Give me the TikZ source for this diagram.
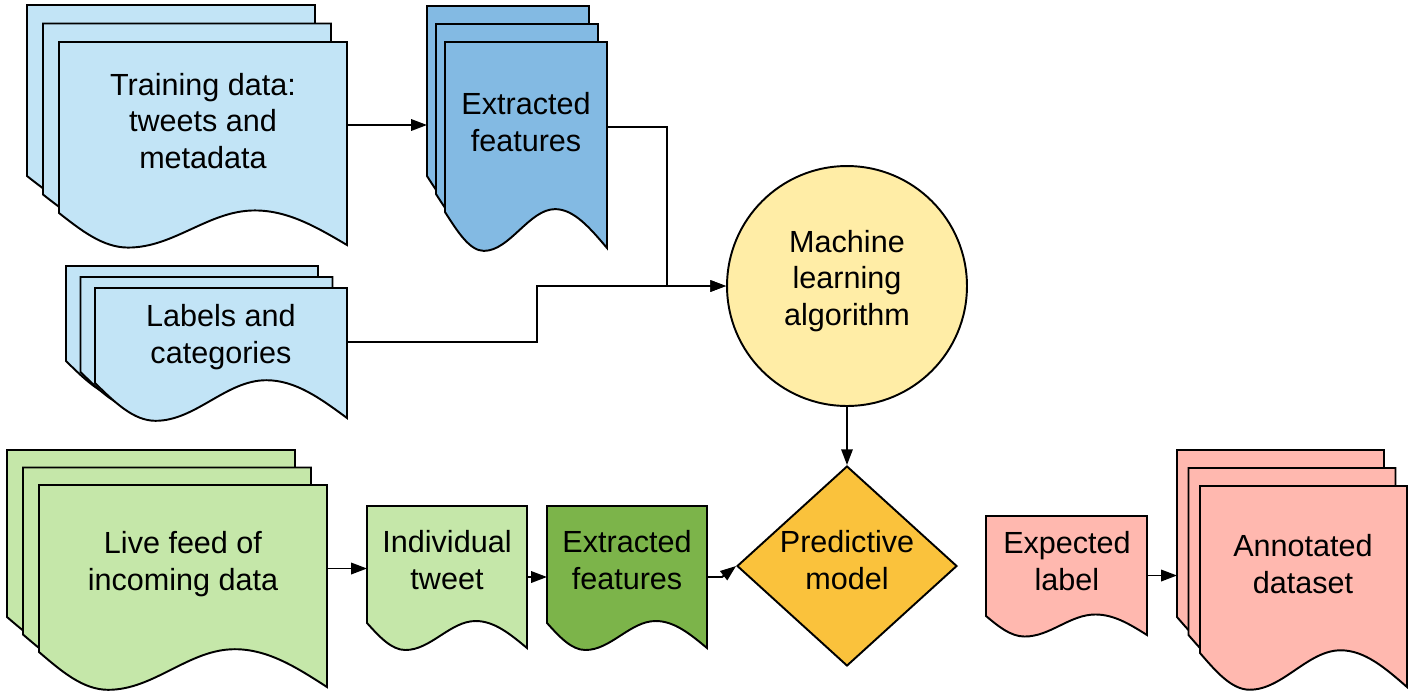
\documentclass[tikz,border=0pt]{standalone}
\usepackage{fontspec}
\setmainfont{Liberation Sans}
\usetikzlibrary{arrows.meta,shapes.geometric,fit}
\definecolor{lblue}{HTML}{C2E4F6}
\definecolor{mblue}{HTML}{83BAE3}
\definecolor{lgreen}{HTML}{C5E7A9}
\definecolor{dgreen}{HTML}{7CB44A}
\definecolor{lyellow}{HTML}{FFEDA6}
\definecolor{orangey}{HTML}{FAC23C}
\definecolor{lpink}{HTML}{FFB8AF}
\tikzset{
  sheet/.style={draw=black,line width=1.1pt,line join=miter},
  txt/.style={align=center,font=\fontsize{17.4}{21}\selectfont,inner sep=0pt},
  bbox/.style={inner sep=0pt,outer sep=0pt,draw=none},
  arr/.style={draw=black,line width=1.1pt,-{Triangle[length=9pt,width=6.5pt]}},
}
% #1 fill, #2 x, #3 y, #4 w, #5 h, #6 wave depth
\newcommand\docsheet[6]{%
  \filldraw[sheet,fill=#1] (#2,#3) -- ({#2+#4},#3) -- ({#2+#4},{#3+#5})
    sin ({#2+0.68*#4},{#3+#5-1.08*#6})
    cos ({#2+0.46*#4},{#3+#5-0.5*#6})
    sin ({#2+0.24*#4},{#3+#5+0.08*#6})
    cos (#2,{#3+#5-#6}) -- cycle;}
% #1 fill, #2 x0, #3 y0, #4 dx, #5 dy, #6 w, #7 h, #8 wave
\newcommand\docstack[8]{%
  \docsheet{#1}{#2}{#3}{#6}{#7}{#8}%
  \docsheet{#1}{#2+#4}{#3+#5}{#6}{#7}{#8}%
  \docsheet{#1}{#2+2*#4}{#3+2*#5}{#6}{#7}{#8}}
\begin{document}
\begin{tikzpicture}[x=0.02cm,y=-0.02cm]
\useasboundingbox (0,0) rectangle (1411,698);
% stacks and sheets
\docstack{lblue}{27}{5}{16}{18.5}{288}{203}{32}
\docstack{mblue}{427}{6}{9}{18}{162}{206}{36}
\docstack{lblue}{66}{266}{14.5}{11}{252}{130}{35}
\docstack{lgreen}{7}{450}{16}{17.5}{288}{202}{35}
\docsheet{lgreen}{367}{506}{160}{142}{25}
\docsheet{dgreen}{547}{506}{160}{142}{25}
\docsheet{lpink}{986}{516}{161}{119}{19}
\docstack{lpink}{1177}{450}{11.5}{18}{207}{201}{34}
% named extents
\node[bbox,fit={(27,5) (347,245)}] (td) {};
\node[bbox,fit={(427,6) (607,248)}] (ef1) {};
\node[bbox,fit={(66,266) (347,418)}] (lc) {};
\node[bbox,fit={(7,450) (327,687)}] (lf) {};
\node[bbox,fit={(367,506) (527,648)}] (it) {};
\node[bbox,fit={(547,506) (707,648)}] (ef2) {};
\node[bbox,fit={(986,516) (1147,635)}] (el) {};
\node[bbox,fit={(1177,450) (1407,687)}] (ad) {};
% circle and diamond
\node[circle,draw=black,line width=1.1pt,fill=lyellow,minimum size=4.8cm,inner sep=0pt] (ml) at (847,286) {};
\node[diamond,draw=black,line width=1.1pt,fill=orangey,minimum width=4.4cm,minimum height=4cm,inner sep=0pt] (pm) at (847,566) {};
% texts
\node[txt] (tdt) at (203,121) {Training data:\\tweets and\\metadata};
\node[txt] (ef1t) at (526,122) {Extracted\\features};
\node[txt] (lct) at (221,337) {Labels and\\categories};
\node[txt] (lft) at (183,564) {Live feed of\\incoming data};
\node[txt] (itt) at (447,560) {Individual\\tweet};
\node[txt] (ef2t) at (627,560) {Extracted\\features};
\node[txt] (elt) at (1067,561) {Expected\\label};
\node[txt] (adt) at (1303,564) {Annotated\\dataset};
\node[txt] (mlt) at (847,281) {Machine\\learning\\algorithm};
\node[txt] (pmt) at (847,560) {Predictive\\model};
% connectors
\draw[arr] (td.east) -- (td.east -| ef1.west);
\draw[arr] (ef1.east) -- ++(60,0) |- (ml.west);
\draw[arr] (lc.east) -- ++(190,0) |- (ml.west);
\draw[arr] (ml.south) -- (pm.north);
\draw[arr] (lf.east) -- (lf.east -| it.west);
\draw[arr] (it.east) -- (ef2.west);
\draw[arr] (ef2.east) -- ++(15,0) -- (pm.west);
\draw[arr] (el.east) -- (el.east -| ad.west);
\end{tikzpicture}
\end{document}
